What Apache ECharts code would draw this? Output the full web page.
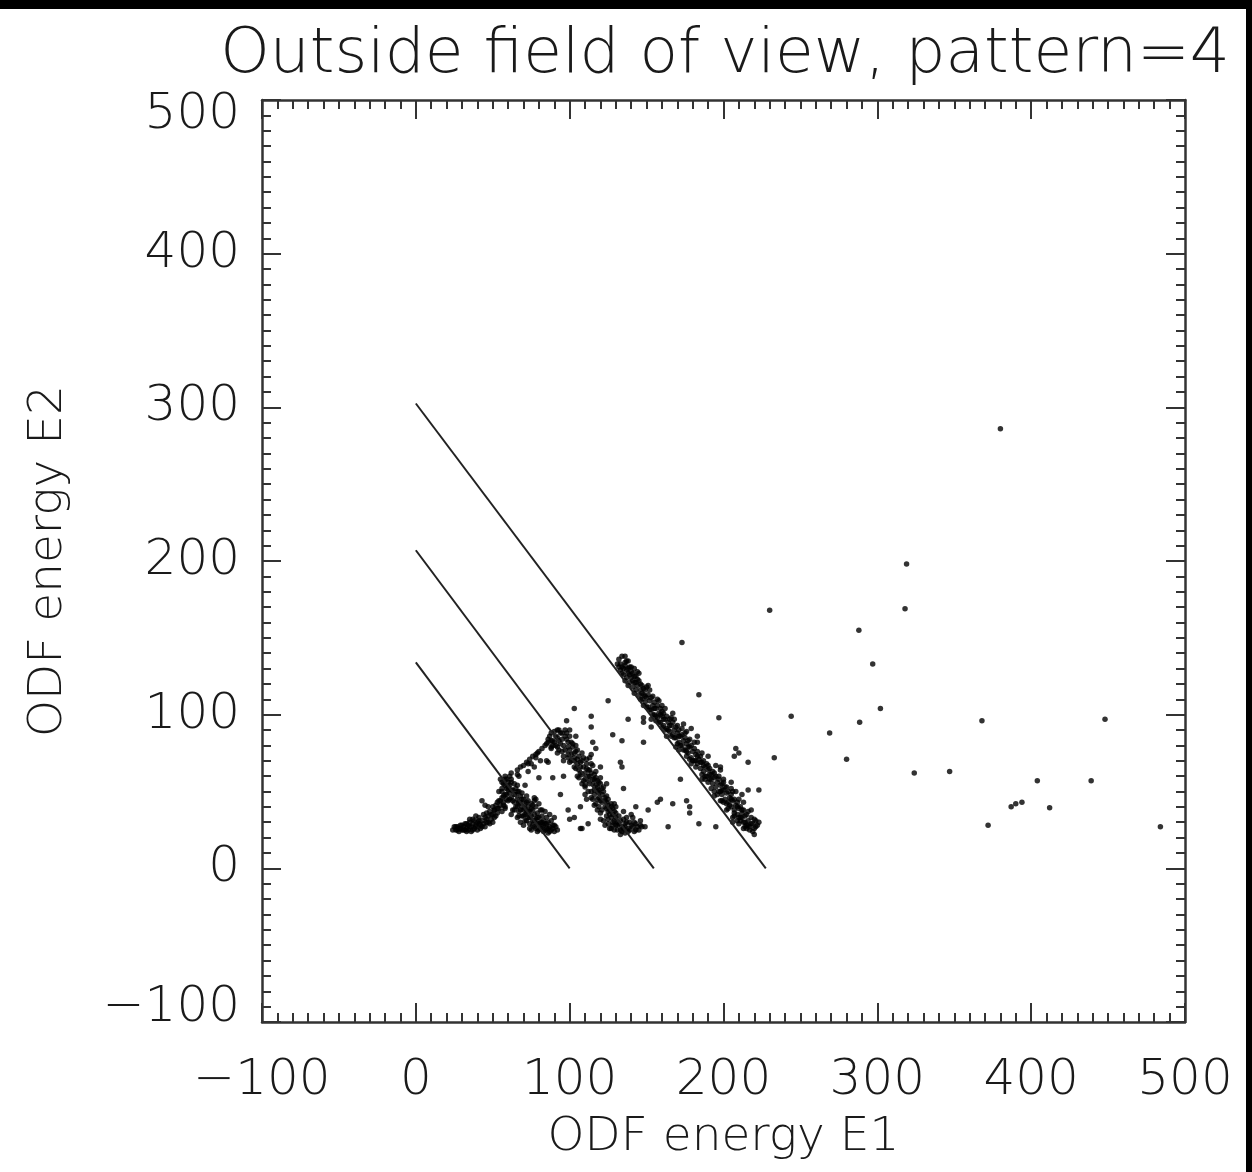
<!DOCTYPE html>
<html><head><meta charset="utf-8">
<script src="https://cdn.jsdelivr.net/npm/echarts@6/dist/echarts.min.js"></script>
<style>
html,body{margin:0;padding:0;background:#000;width:1252px;height:1172px;overflow:hidden}
#c{position:absolute;left:0;top:9px;width:1246px;height:1163px;background:#fff}
</style>
</head><body><div id="c"></div>
<script>
// ---- data ----
const titleText = 'Outside field of view, pattern=4';
const xName = 'ODF energy E1';
const yName = 'ODF energy E2';
const axisMin = -100, axisMax = 500, axisStep = 100;

// straight cut lines
const cutLine1 = [[0, 302.5], [227.5, 0]];
const cutLine2 = [[0, 207], [154.7, 0]];
const cutLine3 = [[0, 134], [100, 0]];

// low-energy tail
const tailPts = [[24,25],[25,27],[26,25],[27,27],[28,24],[29,26],[30,28],[30,25],[31,27],[32,25],[32,29],[33,26],[34,28],[34,25],[35,30],[36,27],[36,24],[37,29],[38,26],[38,31],[39,28],[40,25],[40,30],[41,33],[42,28],[42,26],[43,31],[44,29],[44,35],[45,27],[46,32],[46,30],[47,34],[48,29],[48,37],[49,32],[50,35],[50,30],[51,38],[52,34],[52,41],[53,36],[54,39],[54,44],[55,41],[56,37],[56,46],[57,43],[58,40],[58,48],[59,45],[60,51],[35,32],[39,34],[47,40],[43,44],[45,41],[51,38],
[26,27],[27,25],[29,28],[31,25],[33,29],[35,27],[37,25],[39,27],[41,29],[43,27],[45,33],[47,30],[49,35],[51,33],[53,39],[55,44],[57,41],[59,48],[28,26],[33,24],[37,32],[41,31],[46,36],[50,40],[53,43],[56,50]];

// cluster along the lowest line
const cluster3 = [[55,58],[57,55],[58,60],[59,52],[60,56],[61,49],[61,54],[62,58],[62,46],[63,51],[64,55],[64,43],[65,48],[65,52],[66,45],[66,40],[67,50],[67,37],[68,43],[68,47],[69,40],[69,34],[70,45],[70,38],[71,42],[71,31],[72,36],[72,47],[73,40],[73,33],[74,37],[74,29],[75,42],[75,34],[76,31],[76,38],[77,27],[77,35],[78,40],[78,32],[79,29],[79,36],[80,25],[80,33],[81,30],[81,38],[82,27],[82,34],[83,31],[83,24],[84,29],[85,33],[85,26],[86,23],[86,30],[87,27],[88,25],[88,31],[89,28],[90,24],[91,27],[92,25],[63,38],[66,33],[60,44],[58,39],[62,35],[70,28],[75,25],[79,24],[68,30],[73,44],[77,46],[80,42],[84,37],[87,35],[57,47],[56,52],[54,50],
[56,56],[58,54],[59,58],[60,53],[61,45],[62,51],[63,44],[64,48],[65,40],[66,50],[67,43],[68,38],[69,45],[70,34],[71,39],[72,31],[73,37],[74,33],[75,39],[76,28],[77,31],[78,26],[79,33],[80,29],[81,26],[82,30],[83,28],[84,25],[85,29],[86,26],[87,24],[89,26],[90,28],[72,43],[69,49],[66,54],[64,38],[67,34],[71,35],[74,26],[82,38],[78,45],[76,41]];

// rising edge between the two lower clusters
const edgePts = [[58,58],[61,60],[62,62],[66,64],[68,66],[70,67],[72,69],[74,71],[76,73],[78,72],[80,76],[82,78],[84,80],[67,60],[73,63],[77,66],[81,70],[62,56],[86,82],[73,68],[78,74],[85,70],[75,68],[86,69],[89,83],[92,90],[66,61],[79,75],[88,78]];

// cluster along the middle line
const cluster2 = [[88,83],[92,85],[94,81],[99,79],[101,82],[97,77],[103,75],[101,70],[105,71],[107,66],[103,66],[110,62],[112,64],[106,59],[112,57],[115,55],[110,53],[116,51],[119,49],[114,46],[120,44],[123,40],[117,42],[125,37],[127,33],[120,36],[129,31],[131,28],[133,25],[127,26],[125,29],[136,23],[138,24],[118,53],[123,46],[113,72],[115,67],[117,63],[99,72],[94,88],[90,89],[97,90],[88,79],[85,81],[92,75],
[86,84],[88,88],[89,80],[91,86],[92,79],[93,90],[95,84],[96,80],[97,86],[99,82],[100,77],[101,74],[102,79],[104,76],[105,68],[106,73],[108,70],[109,66],[110,58],[111,68],[112,60],[113,64],[115,58],[116,61],[117,54],[118,57],[119,51],[120,55],[121,48],[122,50],[123,44],[124,47],[125,41],[126,38],[127,42],[128,35],[129,37],[130,33],[131,30],[132,34],[134,27],[136,29],[138,26],[139,30],[141,27],[143,29],[145,25],[128,28],[125,32],[121,38],[118,45],[114,50],[110,54],[107,62],[103,70],[99,74],[95,76],[131,25],[135,32],[140,35],[142,24],[133,22],[126,26],[122,31],[104,80],[108,75],[111,71],[106,64],[113,60],[116,58],[119,56],[121,52],[124,43],[128,39],[130,36],[135,26],[137,30],[144,27],
[87,86],[90,82],[93,83],[95,88],[98,84],[100,86],[102,81],[103,72],[105,77],[107,69],[108,61],[109,72],[111,65],[113,55],[114,62],[116,48],[117,59],[118,50],[119,46],[120,59],[121,43],[122,53],[124,39],[125,45],[126,35],[127,40],[128,30],[129,42],[130,28],[132,29],[133,31],[134,24],[136,27],[137,33],[139,25],[140,28],[142,30],[146,28],[143,25],[124,34],[119,40],[115,45],[112,50],[109,57],[104,65],[100,69],[96,73],[93,77],[91,80],[105,60],[110,48],[116,41],[120,32],[123,28],[129,25],
[96,70],[100,90],[104,86],[108,55],[114,68],[118,38],[124,55],[130,40],[135,37],[141,33],[98,88],[111,45]];

// cluster along the upper line
const cluster1 = [[131,133],[132,136],[133,129],[134,131],[135,126],[136,134],[136,138],[137,124],[137,129],[138,127],[139,121],[139,131],[140,124],[141,118],[141,127],[142,121],[143,116],[143,125],[144,119],[145,113],[145,122],[146,116],[147,110],[147,119],[148,113],[149,108],[149,116],[150,111],[151,105],[151,113],[152,109],[153,103],[153,111],[154,106],[155,100],[155,108],[156,104],[157,98],[157,106],[158,101],[159,95],[159,104],[160,99],[161,93],[161,101],[162,97],[163,91],[163,99],[164,95],[165,89],[165,97],[166,93],[167,87],[167,95],[168,90],[169,85],[169,92],[170,88],[171,82],[171,90],[172,86],[173,80],[173,87],[174,83],[175,77],[175,85],[176,81],[177,75],[177,83],[178,79],[179,72],[179,80],[180,76],[181,70],[181,78],[182,74],[183,68],[183,76],[184,71],[185,65],[185,73],[186,69],[187,63],[187,70],[188,66],[189,60],[189,68],[190,64],[191,58],[191,65],[192,61],[193,55],[193,63],[194,59],[195,53],[195,60],[196,56],[197,50],[197,58],[198,54],[199,48],[199,55],[200,51],[201,45],[201,53],[202,49],[203,43],[203,50],[204,46],[205,40],[205,48],[206,44],[207,38],[207,45],[208,41],[209,35],[209,43],[210,39],[211,33],[211,40],[212,36],[213,30],[213,38],[214,34],[215,28],[215,35],[216,31],[217,27],[218,33],[219,29],[220,26],[221,31],[222,28],[223,30],[210,29],[214,27],[206,33],[202,38],[198,44],[194,50],[190,56],[186,61],[182,66],[178,71],[174,77],[170,81],[166,86],[162,90],[158,95],[154,100],[150,105],[146,110],[142,114],[138,119],[183,82],[176,89],[168,97],[160,106],[152,116],[195,67],[200,58],[208,50],[213,43],[144,128],[140,131],[134,138],[138,135],
[133,133],[135,130],[137,135],[139,126],[140,128],[142,125],[144,123],[146,120],[147,114],[149,112],[150,118],[152,103],[154,112],[156,99],[157,110],[159,100],[161,97],[162,104],[164,90],[166,98],[168,85],[170,93],[172,80],[173,91],[175,88],[176,76],[178,84],[180,70],[181,82],[183,73],[185,69],[186,75],[188,60],[190,67],[191,61],[192,52],[194,62],[196,48],[197,60],[199,51],[200,43],[202,53],[203,39],[205,45],[206,50],[207,36],[209,40],[210,45],[211,31],[212,38],[214,30],[216,37],[217,25],[218,29],[220,32],[221,27],[219,24],[215,26],[212,33],[204,41],[198,50],[192,58],[187,67],[182,70],[177,79],[171,86],[165,93],[160,102],[155,104],[148,117],[143,121],[138,130],[136,132],[141,122],[132,131],[134,127],[213,26],[216,28],[209,31],[207,34],
[136,122],[142,130],[148,106],[151,119],[156,96],[158,109],[163,86],[167,101],[171,77],[174,94],[179,68],[183,86],[186,58],[190,73],[194,47],[198,66],[202,42],[205,56],[210,33],[212,48],[218,38],[220,22],[145,127],[153,97],[160,92],[169,79],[176,73],[188,58],[199,44],[206,30]];

// scattered events between clusters
const scatterPts = [[103,104],[114,99],[114,92],[98,96],[125,109],[128,87],[138,97],[134,83],[148,82],[115,82],[117,78],[133,69],[134,66],[120,66],[114,74],[135,52],[143,40],[151,38],[147,27],[107,26],[148,98],[148,95],[153,92],[208,78],[210,75],[207,73],[233,72],[216,69],[173,147],[184,113],[197,98],[179,91],[230,168],[77,44],[80,59],[89,59],[94,48],[90,33],[108,26],[71,54],[99,38],[100,32],[67,42],[96,60],[103,33],[107,40],[112,29],[157,43],[159,45],[167,42],[176,44],[178,40],[178,36],[184,29],[195,27],[164,27],[146,31],[149,27],[172,58],[198,64],[200,56],[205,52],[216,51],[223,51]];

// far outliers
const outlierPts = [[380,286],[319,198],[318,169],[288,155],[297,133],[244,99],[302,104],[288.5,95],[269,88],[280,71],[324,62],[347,63],[368,96],[448,97],[404,57],[439,57],[387,40],[390,42],[394,43],[412,39.5],[372,28],[484,27]];

// ---- chart ----
const ink = '#1a1a1a';
const font = "'DejaVu Sans ExtraLight', 'DejaVu Sans'";
const fmt = v => String(v).replace('-', '\u2212');
const labelBase = {fontFamily: font, fontWeight: 200, fontSize: 50, color: ink};
function xAx(pos, showLabel) {
  return {
    type: 'value', position: pos, min: axisMin, max: axisMax, interval: axisStep,
    name: showLabel ? xName : '', nameLocation: 'middle', nameGap: 92,
    nameTextStyle: {fontFamily: font, fontWeight: 200, fontSize: 47, color: ink},
    axisLine: {show: true, onZero: false, lineStyle: {color: '#333', width: 2.5}},
    axisTick: {show: true, inside: true, length: 19, lineStyle: {color: '#333', width: 2}},
    minorTick: {show: true, splitNumber: 10, length: 9, lineStyle: {color: '#333', width: 2}},
    axisLabel: Object.assign({show: showLabel, margin: 34, formatter: fmt}, labelBase),
    splitLine: {show: false}
  };
}
function yAx(pos, showLabel) {
  return {
    type: 'value', position: pos, min: axisMin, max: axisMax, interval: axisStep,
    name: showLabel ? yName : '', nameLocation: 'middle', nameGap: 190, nameRotate: 90,
    nameTextStyle: {fontFamily: font, fontWeight: 200, fontSize: 47, color: ink},
    axisLine: {show: true, onZero: false, lineStyle: {color: '#333', width: 2.5}},
    axisTick: {show: true, inside: true, length: 19, lineStyle: {color: '#333', width: 2}},
    minorTick: {show: true, splitNumber: 10, length: 9, lineStyle: {color: '#333', width: 2}},
    axisLabel: Object.assign({
      show: showLabel, margin: 22,
      formatter: v => v === axisMax ? '{hi|' + fmt(v) + '}' : (v === axisMin ? '{lo|' + fmt(v) + '}' : fmt(v)),
      rich: {
        hi: Object.assign({padding: [30, 0, 0, 0]}, labelBase),
        lo: Object.assign({padding: [0, 0, 28, 0]}, labelBase)
      }
    }, labelBase),
    splitLine: {show: false}
  };
}
const dotSeries = (d) => ({
  type: 'scatter', data: d, symbol: 'circle', symbolSize: 5.5,
  itemStyle: {color: '#000'}, silent: true, xAxisIndex: 0, yAxisIndex: 0
});
const lineSeries = (d) => ({
  type: 'line', data: d, symbol: 'none', silent: true,
  lineStyle: {color: '#222', width: 2}, xAxisIndex: 0, yAxisIndex: 0
});
const chart = echarts.init(document.getElementById('c'), null, {renderer: 'canvas'});
chart.setOption({
  animation: false,
  backgroundColor: '#fff',
  title: {
    text: titleText, left: 720, top: 10, textAlign: 'center',
    textStyle: {fontFamily: font, fontSize: 63, fontWeight: 200, color: ink}
  },
  grid: {left: 262, right: 61, top: 91, bottom: 150, containLabel: false},
  xAxis: [xAx('bottom', true), xAx('top', false)],
  yAxis: [yAx('left', true), yAx('right', false)],
  series: [
    lineSeries(cutLine1), lineSeries(cutLine2), lineSeries(cutLine3),
    dotSeries(tailPts), dotSeries(cluster3), dotSeries(edgePts),
    dotSeries(cluster2), dotSeries(cluster1), dotSeries(scatterPts), dotSeries(outlierPts)
  ]
});
</script>
</body></html>
